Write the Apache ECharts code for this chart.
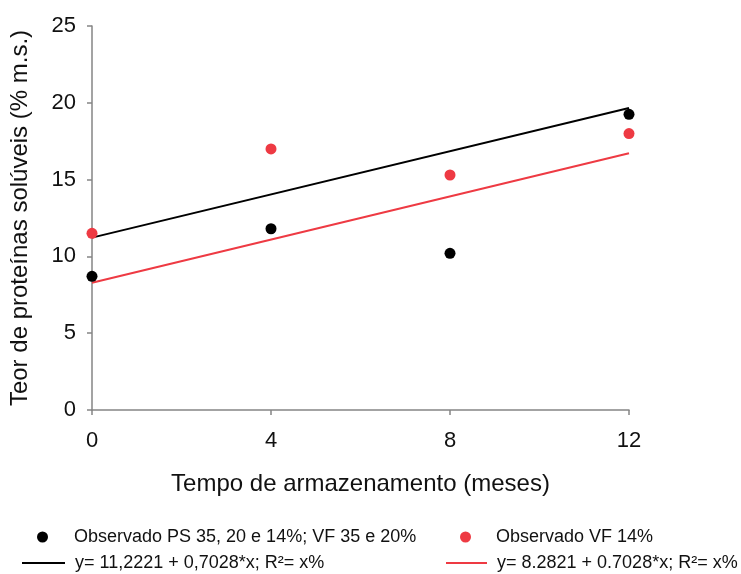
<!DOCTYPE html>
<html>
<head>
<meta charset="utf-8">
<script src="https://cdn.jsdelivr.net/npm/echarts@6/dist/echarts.min.js"></script>
<style>
  html, body { margin: 0; padding: 0; background: #fff; }
  #chart { width: 741px; height: 574px; }
</style>
</head>
<body>
<div id="chart"></div>
<script>
// Storage time (months) and soluble protein content (% d.m.)
const months = [0, 4, 8, 12];
const obsPS = [8.7, 11.8, 10.2, 19.25];   // PS 35, 20 e 14%; VF 35 e 20%
const obsVF14 = [11.5, 17.0, 15.3, 18.0]; // VF 14%

// Fitted regressions, as printed in the legend
const fitPS = { a: 11.2221, b: 0.7028 };
const fitVF14 = { a: 8.2821, b: 0.7028 };

const xTicks = [0, 4, 8, 12];
const yTicks = [0, 5, 10, 15, 20, 25];

const names = {
  ps: 'Observado PS 35, 20 e 14%; VF 35 e 20%',
  vf: 'Observado VF 14%',
  fitPs: 'y= 11,2221 + 0,7028*x; R²= x%',
  fitVf: 'y= 8.2821 + 0.7028*x; R²= x%'
};

const BLACK = '#000000';
const RED = '#ee3a43';
const AXIS = '#858585';
const FONT = '"Liberation Sans", Arial, sans-serif';

const pairs = (xs, ys) => xs.map((x, i) => [x, ys[i]]);
const fitLine = (f) => [[xTicks[0], f.a + f.b * xTicks[0]], [xTicks[xTicks.length - 1], f.a + f.b * xTicks[xTicks.length - 1]]];

const legendText = { fontFamily: FONT, fontSize: 18, color: '#111' };

const chart = echarts.init(document.getElementById('chart'));
chart.setOption({
  animation: false,
  backgroundColor: '#fff',
  textStyle: { fontFamily: FONT },
  grid: { left: 92, right: 112, top: 26, bottom: 164 },
  xAxis: {
    type: 'value',
    min: xTicks[0], max: xTicks[xTicks.length - 1], interval: 4,
    name: 'Tempo de armazenamento (meses)',
    nameLocation: 'middle', nameGap: 62,
    nameTextStyle: { fontFamily: FONT, fontSize: 24, color: '#111' },
    axisLine: { lineStyle: { color: AXIS, width: 1.5 } },
    axisTick: { show: true, length: 5, lineStyle: { color: AXIS, width: 1.5 } },
    axisLabel: { margin: 20, fontFamily: FONT, fontSize: 22, color: '#111' },
    splitLine: { show: false }
  },
  yAxis: {
    type: 'value',
    min: yTicks[0], max: yTicks[yTicks.length - 1], interval: 5,
    name: 'Teor de proteínas solúveis (% m.s.)',
    nameLocation: 'middle', nameGap: 60,
    nameTextStyle: { fontFamily: FONT, fontSize: 24, color: '#111' },
    axisLine: { show: true, lineStyle: { color: AXIS, width: 1.5 } },
    axisTick: { show: true, length: 5, lineStyle: { color: AXIS, width: 1.5 } },
    axisLabel: { margin: 16, fontFamily: FONT, fontSize: 22, color: '#111' },
    splitLine: { show: false }
  },
  legend: [
    { data: [{ name: names.ps, icon: 'circle' }], left: 32, top: 523, itemWidth: 11, itemHeight: 11,
      textStyle: Object.assign({ padding: [0, 0, 0, 21] }, legendText) },
    { data: [{ name: names.vf, icon: 'circle' }], left: 455, top: 523, itemWidth: 11, itemHeight: 11,
      textStyle: Object.assign({ padding: [0, 0, 0, 20] }, legendText) },
    { data: [{ name: names.fitPs, icon: 'rect' }], left: 17, top: 549, itemWidth: 43, itemHeight: 2,
      textStyle: Object.assign({ padding: [0, 0, 0, 5] }, legendText) },
    { data: [{ name: names.fitVf, icon: 'rect' }], left: 441, top: 549, itemWidth: 41, itemHeight: 2,
      textStyle: Object.assign({ padding: [0, 0, 0, 5] }, legendText) }
  ],
  series: [
    {
      name: names.fitPs, type: 'line', data: fitLine(fitPS),
      symbol: 'none', lineStyle: { color: BLACK, width: 2 }, itemStyle: { color: BLACK }, z: 2
    },
    {
      name: names.fitVf, type: 'line', data: fitLine(fitVF14),
      symbol: 'none', lineStyle: { color: RED, width: 2 }, itemStyle: { color: RED }, z: 2
    },
    {
      name: names.ps, type: 'scatter', data: pairs(months, obsPS),
      symbolSize: 11, itemStyle: { color: BLACK, opacity: 1 }, z: 3
    },
    {
      name: names.vf, type: 'scatter', data: pairs(months, obsVF14),
      symbolSize: 11, itemStyle: { color: RED, opacity: 1 }, z: 3
    }
  ]
});
</script>
</body>
</html>
